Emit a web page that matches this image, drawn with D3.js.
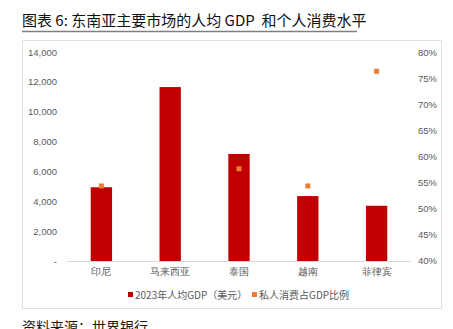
<!DOCTYPE html>
<html><head><meta charset="utf-8">
<script src="https://cdn.jsdelivr.net/npm/d3@7"></script>
<style>body{margin:0;background:#fff;}svg{display:block;font-family:"Noto Sans CJK SC","Noto Sans",sans-serif;}</style>
</head><body>
<svg id="c" width="453" height="329"></svg>
<script>
const categories = ["印尼","马来西亚","泰国","越南","菲律宾"];
const gdpPerCapita = [4940, 11650, 7170, 4350, 3700];
const consumptionShare = [0.543, null, 0.576, 0.543, 0.763];
const leftTicks = [0, 2000, 4000, 6000, 8000, 10000, 12000, 14000];
const rightTicks = [0.40, 0.45, 0.50, 0.55, 0.60, 0.65, 0.70, 0.75, 0.80];
const seriesNames = ["2023年人均GDP（美元）", "私人消费占GDP比例"];

const svg = d3.select("#c");
const barColor = "#C00000", dotColor = "#ED7D31", txt = "#595959";

// title
svg.append("text").attr("x", 22).attr("y", 26).attr("font-size", 15).attr("font-weight", 400)
  .style("white-space", "pre")
  .attr("fill", "#111").text("图表 6: 东南亚主要市场的人均 GDP  和个人消费水平");
svg.append("line").attr("x1", 22).attr("x2", 357).attr("y1", 31.5).attr("y2", 31.5)
  .attr("stroke", "#7f7f7f").attr("stroke-width", 1.5);

// frame
svg.append("rect").attr("x", 22.5).attr("y", 40.5).attr("width", 419).attr("height", 268)
  .attr("fill", "none").attr("stroke", "#e0e0e0");

const x = d3.scaleBand().domain(categories).range([67, 411]).paddingInner(0.69).paddingOuter(0.345);
const yL = d3.scaleLinear().domain([0, 14000]).range([261, 52]);
const yR = d3.scaleLinear().domain([0.40, 0.80]).range([260.5, 52]);

// left axis
const axL = d3.axisLeft(yL).tickValues(leftTicks).tickSize(0).tickPadding(0)
  .tickFormat(d => d === 0 ? "-" : d3.format(",")(d));
const gL = svg.append("g").attr("transform", "translate(57,0)").call(axL);
gL.select(".domain").remove();
gL.selectAll("text").attr("font-size", 9.5).attr("fill", txt).attr("font-family", "Liberation Sans, Arial, sans-serif");

// right axis
const axR = d3.axisRight(yR).tickValues(rightTicks).tickSize(0).tickPadding(0)
  .tickFormat(d3.format(".0%"));
const gR = svg.append("g").attr("transform", "translate(418,0)").call(axR);
gR.select(".domain").remove();
gR.selectAll("text").attr("font-size", 9.5).attr("fill", txt).attr("font-family", "Liberation Sans, Arial, sans-serif");

// bars
svg.append("g").selectAll("rect").data(categories).join("rect")
  .attr("x", d => x(d)).attr("width", x.bandwidth())
  .attr("y", (d, i) => yL(gdpPerCapita[i])).attr("height", (d, i) => yL(0) - yL(gdpPerCapita[i]))
  .attr("fill", barColor);

// baseline
svg.append("line").attr("x1", 67).attr("x2", 411).attr("y1", 261.5).attr("y2", 261.5)
  .attr("stroke", "#d9d9d9");

// category axis
const axB = d3.axisBottom(x).tickSize(0).tickPadding(0);
const gB = svg.append("g").attr("transform", "translate(0,268)").call(axB);
gB.select(".domain").remove();
gB.selectAll("text").attr("font-size", 10).attr("fill", txt).attr("dy", "0.71em");

// points
const ms = 5;
svg.append("g").selectAll("rect").data(categories.map((c, i) => ({c, v: consumptionShare[i]})).filter(d => d.v != null))
  .join("rect")
  .attr("x", d => x(d.c) + x.bandwidth() / 2 - ms / 2).attr("y", d => yR(d.v) - ms / 2)
  .attr("width", ms).attr("height", ms).attr("fill", dotColor);

// legend
const leg = [{x: 128, c: barColor, t: seriesNames[0]}, {x: 252, c: dotColor, t: seriesNames[1]}];
leg.forEach(l => {
  svg.append("rect").attr("x", l.x).attr("y", 292).attr("width", 5).attr("height", 5).attr("fill", l.c);
  svg.append("text").attr("x", l.x + 7).attr("y", 298.5).attr("font-size", 10).attr("fill", txt).text(l.t);
});

// source
svg.append("text").attr("x", 22).attr("y", 332).attr("font-size", 14).attr("fill", "#1a1a1a").text("资料来源：世界银行");
</script>
</body></html>
